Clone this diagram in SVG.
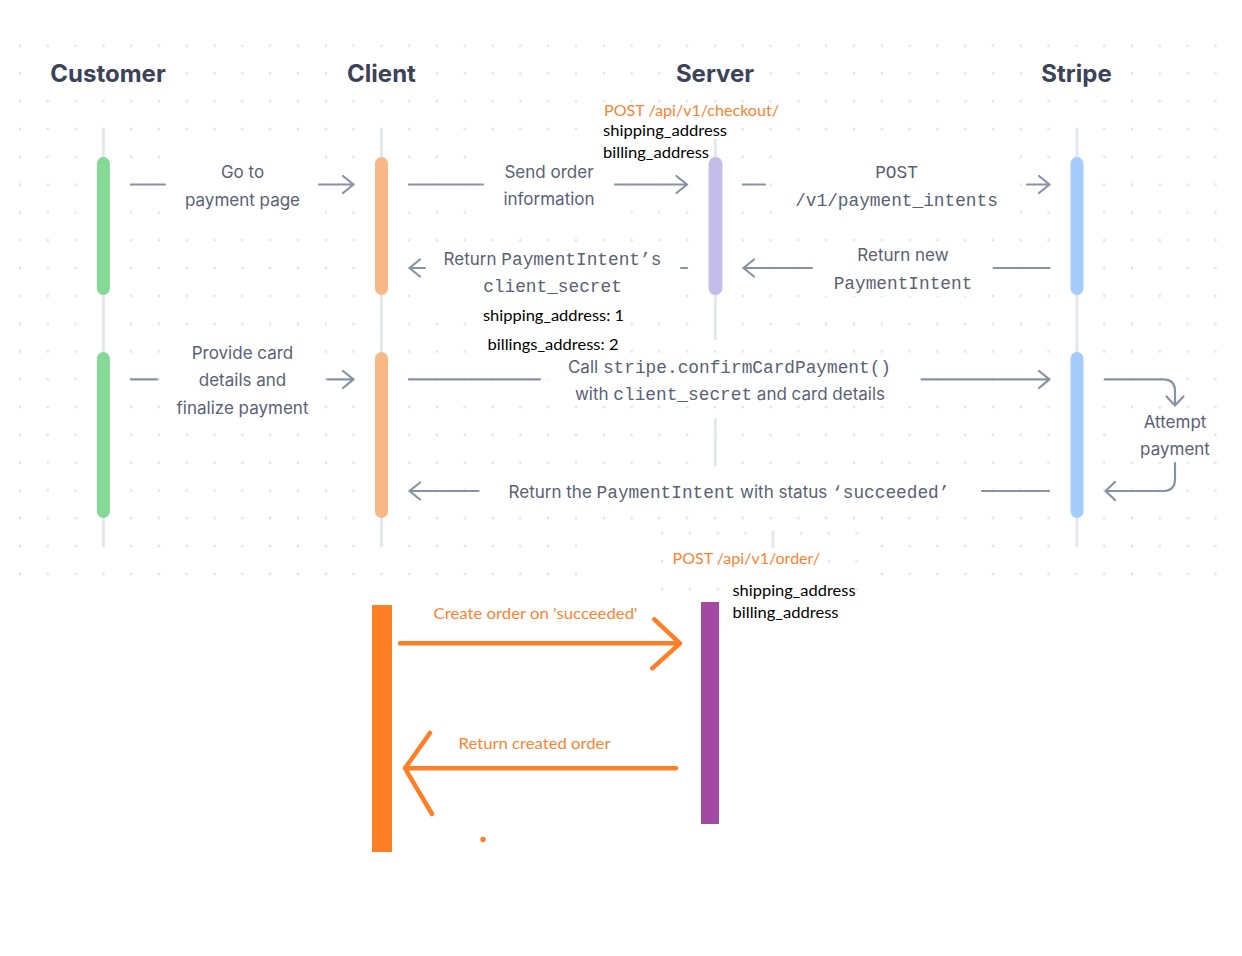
<svg xmlns="http://www.w3.org/2000/svg" width="1242" height="956" viewBox="0 0 1242 956">
<defs>
<style>
.bg{fill:#ffffff}
.life{stroke:#e3e8ee;stroke-width:3;fill:none}
.arr{stroke:#8792a2;stroke-width:2.2;fill:none;stroke-linecap:round;stroke-linejoin:round}
.head{font-family:Inter,"Liberation Sans",sans-serif;font-weight:700;font-size:24px;fill:#3c4257;text-anchor:middle}
.lbl{font-family:Inter,"Liberation Sans",sans-serif;font-size:17px;fill:#596176;text-anchor:middle}
.mono{font-family:"Liberation Mono","DejaVu Sans Mono",monospace;font-size:17.8px}
.ov{font-family:Lato,"Open Sans",sans-serif;font-size:15.5px;fill:#000000}
.ovo{font-family:Lato,"Open Sans",sans-serif;font-size:15.5px;fill:#fb8331}
.oarr{stroke:#ff7f27;stroke-width:4.5;fill:none;stroke-linecap:round;stroke-linejoin:round}
</style>
<pattern id="dots" patternUnits="userSpaceOnUse" x="6.1" y="31.8" width="27.8" height="27.8">
<circle cx="13.9" cy="13.9" r="1.4" fill="#e1e5ea"/>
</pattern>
<pattern id="dots2" patternUnits="userSpaceOnUse" x="648" y="519.5" width="27.8" height="28">
<circle cx="14" cy="14" r="1.4" fill="#e1e5ea"/>
</pattern>
</defs>
<rect width="1242" height="956" fill="#ffffff"/>
<g id="background">
<rect x="0" y="32" width="1232" height="556" fill="url(#dots)"/>
<rect x="590" y="526" width="280" height="76" class="bg"/>
<rect x="648" y="520" width="222" height="82" fill="url(#dots2)"/>
<line x1="773" y1="531" x2="773" y2="548" class="life"/>
<!-- label backgrounds -->
<rect x="34" y="55" width="146" height="37" class="bg"/>
<rect x="338" y="55" width="88" height="37" class="bg"/>
<rect x="664" y="55" width="102" height="37" class="bg"/>
<rect x="1034" y="55" width="88" height="37" class="bg"/>
<rect x="170" y="151" width="146" height="66" class="bg"/>
<rect x="490" y="151" width="118" height="66" class="bg"/>
<rect x="775" y="151" width="245" height="66" class="bg"/>
<rect x="434" y="244" width="238" height="54" class="bg"/>
<rect x="816" y="244" width="172" height="52" class="bg"/>
<rect x="168" y="338" width="150" height="84" class="bg"/>
<rect x="548" y="353" width="364" height="53" class="bg"/>
<rect x="1130" y="410" width="84" height="52" class="bg"/>
<rect x="490" y="474" width="480" height="34" class="bg"/>
<rect x="601" y="121" width="128" height="20" class="bg"/>
<rect x="601" y="142" width="106" height="16" class="bg"/>
<rect x="481" y="305" width="146" height="21" class="bg"/>
<rect x="485" y="335" width="137" height="20" class="bg"/>
</g>
<g id="customer">
<text x="108" y="82" class="head">Customer</text>
<line x1="103.4" y1="128" x2="103.4" y2="546" class="life"/>
<rect x="96.9" y="157" width="13" height="138" rx="6.5" fill="#85d996"/>
<rect x="96.9" y="352" width="13" height="166" rx="6.5" fill="#85d996"/>
</g>
<g id="client">
<text x="381.5" y="82" class="head">Client</text>
<line x1="381.5" y1="128" x2="381.5" y2="546" class="life"/>
<rect x="375" y="157" width="13" height="138" rx="6.5" fill="#f8b886"/>
<rect x="375" y="352" width="13" height="166" rx="6.5" fill="#f8b886"/>
</g>
<g id="server">
<text x="715" y="82" class="head">Server</text>
<line x1="715.3" y1="139" x2="715.3" y2="160" class="life"/>
<line x1="715.3" y1="290" x2="715.3" y2="340" class="life"/>
<line x1="715.3" y1="418" x2="715.3" y2="466" class="life"/>
<rect x="708.5" y="157" width="14" height="138" rx="7" fill="#c4bdea"/>
</g>
<g id="stripe">
<text x="1076.5" y="82" class="head">Stripe</text>
<line x1="1077" y1="128" x2="1077" y2="546" class="life"/>
<rect x="1070.5" y="157" width="13" height="138" rx="6.5" fill="#a4cdfe"/>
<rect x="1070.5" y="352" width="13" height="166" rx="6.5" fill="#a4cdfe"/>
</g>
<g id="client-order">
<rect x="372" y="605" width="20" height="247" fill="#ff7f27"/>
</g>
<g id="server-order">
<rect x="701" y="602" width="18" height="222" fill="#a349a4"/>
</g>
<g id="connectors">
<path class="arr" d="M131 184.5H165M319 184.5H353.5M343 176L353.5 184.5L343 193"/>
<path class="arr" d="M409 184.5H483M615 184.5H687M676.5 176L687 184.5L676.5 193"/>
<path class="arr" d="M743 184.5H765M1027 184.5H1049.5M1039 176L1049.5 184.5L1039 193"/>
<path class="arr" d="M1049.5 268H994M812 268H743.5M754 259.5L743.5 268L754 276.5"/>
<path class="arr" d="M687 268H681M425 268H409.5M420 259.5L409.5 268L420 276.5"/>
<path class="arr" d="M131 379.3H157M327.5 379.3H353.5M343 371L353.5 379.3L343 388"/>
<path class="arr" d="M409 379.3H540M921.5 379.3H1049.5M1039 371L1049.5 379.3L1039 388"/>
<path class="arr" d="M1105 379.3H1163Q1175 379.3 1175 391.3V405.5M1166.5 396.5L1175 405.5L1183.5 396.5"/>
<path class="arr" d="M1175 463V479Q1175 491 1163 491H1105.5M1115 482L1105.5 491L1115 500"/>
<path class="arr" d="M1049 491H982M478.5 491H409.5M420 482.5L409.5 491L420 499.5"/>
<path class="oarr" d="M400 643.3H680M654.3 619.3L680 643.3L652.3 668.3"/>
<path class="oarr" d="M676 768.3H405M430 733L405 768.3L432 814"/>
<circle cx="483" cy="839.5" r="2.7" fill="#ff7f27"/>
</g>
<g id="labels">
<text x="242.5" y="178" class="lbl">Go to</text>
<text x="242.5" y="206" class="lbl">payment page</text>
<text x="549" y="177.5" class="lbl">Send order</text>
<text x="549" y="205" class="lbl">information</text>
<text x="896.5" y="178" class="lbl"><tspan class="mono">POST</tspan></text>
<text x="896.5" y="206" class="lbl"><tspan class="mono">/v1/payment_intents</tspan></text>
<text x="903" y="261" class="lbl">Return new</text>
<text x="903" y="289" class="lbl"><tspan class="mono">PaymentIntent</tspan></text>
<text x="552.5" y="265" class="lbl">Return <tspan class="mono">PaymentIntent’s</tspan></text>
<text x="552.5" y="292" class="lbl"><tspan class="mono">client_secret</tspan></text>
<text x="242.5" y="358.5" class="lbl">Provide card</text>
<text x="242.5" y="386" class="lbl">details and</text>
<text x="242.5" y="414" class="lbl">finalize payment</text>
<text x="729.5" y="372.5" class="lbl">Call <tspan class="mono">stripe.confirmCardPayment()</tspan></text>
<text x="730" y="400" class="lbl">with <tspan class="mono">client_secret</tspan> and card details</text>
<text x="1175" y="428" class="lbl">Attempt</text>
<text x="1175" y="455" class="lbl">payment</text>
<text x="729" y="497.5" class="lbl">Return the <tspan class="mono">PaymentIntent</tspan> with status <tspan class="mono">‘succeeded’</tspan></text>
</g>
<g id="annotations">
<text x="604" y="116" class="ovo" textLength="175" lengthAdjust="spacingAndGlyphs">POST /api/v1/checkout/</text>
<text x="603" y="136" class="ov" textLength="124" lengthAdjust="spacingAndGlyphs">shipping_address</text>
<text x="603" y="157.5" class="ov" textLength="106" lengthAdjust="spacingAndGlyphs">billing_address</text>
<text x="483" y="321" class="ov" textLength="141" lengthAdjust="spacingAndGlyphs">shipping_address: 1</text>
<text x="487.5" y="350" class="ov" textLength="131" lengthAdjust="spacingAndGlyphs">billings_address: 2</text>
<text x="672.5" y="564" class="ovo" textLength="147.5" lengthAdjust="spacingAndGlyphs">POST /api/v1/order/</text>
<text x="732.5" y="596" class="ov" textLength="123" lengthAdjust="spacingAndGlyphs">shipping_address</text>
<text x="732.5" y="617.5" class="ov" textLength="106" lengthAdjust="spacingAndGlyphs">billing_address</text>
<text x="433.5" y="618.5" class="ovo" textLength="204" lengthAdjust="spacingAndGlyphs">Create order on 'succeeded'</text>
<text x="458.5" y="748.5" class="ovo" textLength="152" lengthAdjust="spacingAndGlyphs">Return created order</text>
</g>
</svg>
